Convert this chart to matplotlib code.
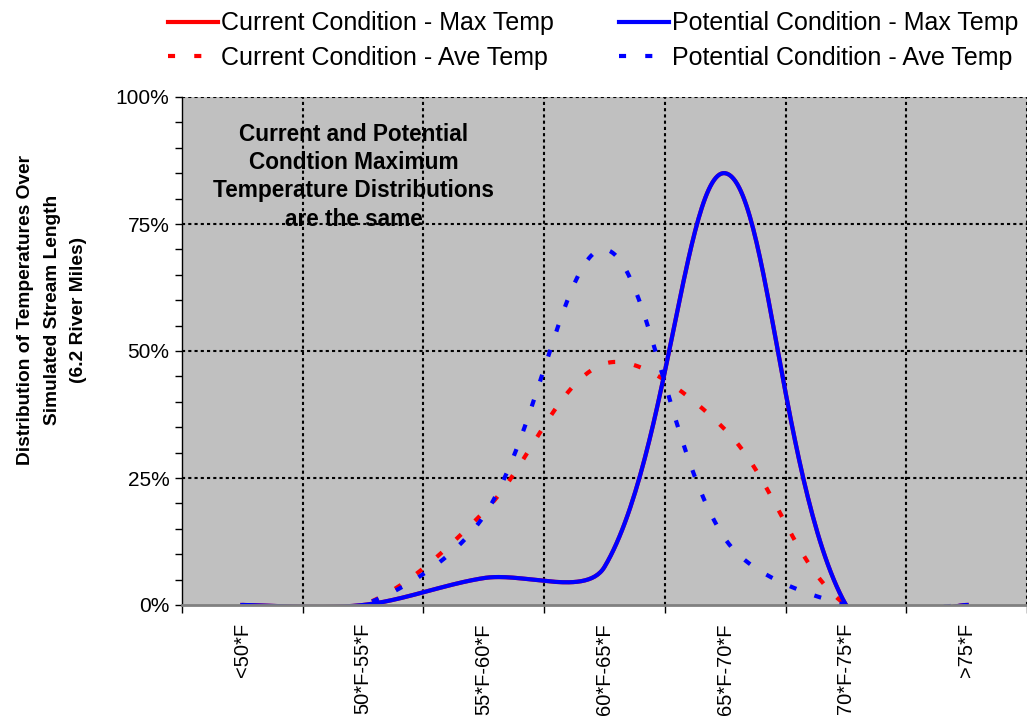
import numpy as np
import matplotlib
matplotlib.use('Agg')
import matplotlib.pyplot as plt
from matplotlib.lines import Line2D
from matplotlib.ticker import MultipleLocator, FixedLocator, PercentFormatter

# categories and series (percent of stream length)
categories = ['<50*F', '50*F-55*F', '55*F-60*F', '60*F-65*F', '65*F-70*F', '70*F-75*F', '>75*F']
current_max = [0, 0, 5.3, 7.5, 85, 0, 0]
potential_max = [0, 0, 5.3, 7.5, 85, 0, 0]
current_ave = [0, 0, 18.3, 47.5, 34.5, 0, 0]
potential_ave = [0, 0, 17.5, 70, 13, 0, 0]

plt.rcParams['font.family'] = ['Liberation Sans', 'DejaVu Sans']

fig = plt.figure(figsize=(10.27, 7.26), dpi=100)
ax = fig.add_axes([182 / 1027, 121 / 726, 845 / 1027, 508 / 726])
ax.set_facecolor('#C0C0C0')
ax.set_xlim(-0.5, len(categories) - 0.5)
ax.set_ylim(0, 100)


def smooth_xy(ax, xs, ys, n=60):
    # excel-style smoothed line: bezier segments, tangents weighted by segment length in pixels
    pts = ax.transData.transform(np.column_stack([xs, ys]).astype(float))
    m = len(pts)
    seg = np.hypot(*np.diff(pts, axis=0).T)
    out = []
    for i in range(m - 1):
        p0, p3 = pts[i], pts[i + 1]
        if i == 0:
            c1 = p0 + (p3 - p0) / 6
        else:
            d = pts[i + 1] - pts[i - 1]
            c1 = p0 + d / 3 * seg[i] / (seg[i - 1] + seg[i])
        if i + 1 == m - 1:
            c2 = p3 - (p3 - p0) / 6
        else:
            d = pts[i + 2] - pts[i]
            c2 = p3 - d / 3 * seg[i] / (seg[i] + seg[i + 1])
        t = np.linspace(0, 1, n)[:, None]
        b = (1 - t) ** 3 * p0 + 3 * (1 - t) ** 2 * t * c1 + 3 * (1 - t) * t ** 2 * c2 + t ** 3 * p3
        out.append(b if i == 0 else b[1:])
    curve = ax.transData.inverted().transform(np.vstack(out))
    return curve[:, 0], curve[:, 1]


x = np.arange(len(categories))
dash = (0, (1.7, 4.6))
series = [
    (current_max, 'red', '-', 'Current Condition - Max Temp'),
    (current_ave, 'red', dash, 'Current Condition - Ave Temp'),
    (potential_max, 'blue', '-', 'Potential Condition - Max Temp'),
    (potential_ave, 'blue', dash, 'Potential Condition - Ave Temp'),
]
handles = []
for vals, col, ls, lab in series:
    sx, sy = smooth_xy(ax, x, vals)
    ax.plot(sx, sy, color=col, linestyle=ls, lw=3, zorder=3)
    handles.append(Line2D([], [], color=col, linestyle=ls, lw=3, label=lab))

# gridlines
for yv in [25, 50, 75, 100]:
    ax.axhline(yv, color='black', lw=1.5, linestyle=(0, (1.5, 1.5)), zorder=1)
for xv in np.arange(0.5, len(categories), 1.0):
    ax.axvline(xv, color='black', lw=1.5, linestyle=(0, (1.5, 1.5)), zorder=1)

# axes styling
for s in ['top', 'right']:
    ax.spines[s].set_visible(False)
ax.spines['left'].set_color('black')
ax.spines['left'].set_linewidth(1)
ax.spines['bottom'].set_color('#808080')
ax.spines['bottom'].set_linewidth(2)
ax.spines['bottom'].set_zorder(4)

ax.yaxis.set_major_locator(MultipleLocator(25))
ax.yaxis.set_minor_locator(MultipleLocator(5))
ax.yaxis.set_major_formatter(PercentFormatter(decimals=0))
ax.tick_params(axis='y', which='both', length=5, width=1, direction='out', labelsize=15, pad=4)

ax.set_xticks(x)
ax.set_xticklabels(categories, rotation=90, va='top', ha='center', fontsize=14.5)
ax.xaxis.set_minor_locator(FixedLocator(np.arange(-0.5, len(categories), 1.0)))
ax.tick_params(axis='x', which='major', length=0, pad=13)
ax.tick_params(axis='x', which='minor', length=6, width=1, direction='out')

ax.set_ylabel('Distribution of Temperatures Over\nSimulated Stream Length\n(6.2 River Miles)',
              fontsize=13.8, fontweight='bold', linespacing=1.75)
ax.yaxis.set_label_coords(-0.112, 0.58)

ax.text(0.92, 84.3, 'Current and Potential\nCondtion Maximum\nTemperature Distributions\nare the same',
        ha='center', va='center', fontsize=16.3, fontweight='bold', linespacing=1.3, zorder=5)

fig.legend(handles=handles, ncol=2, loc='upper left', bbox_to_anchor=(158 / 1027, 0.998),
           frameon=False, fontsize=18, handlelength=2.0, handletextpad=0.12,
           columnspacing=2.6, labelspacing=0.43, borderaxespad=0.0)

fig.savefig('out.png', dpi=100)
